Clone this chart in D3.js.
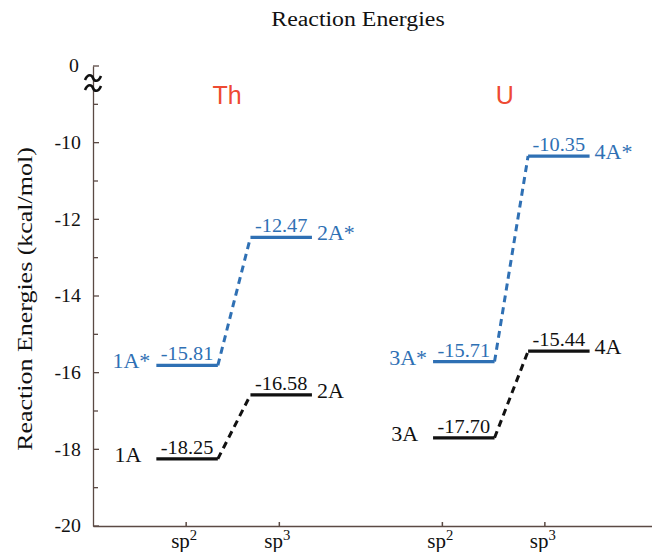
<!DOCTYPE html>
<html lang="en">
<head>
<meta charset="UTF-8" />
<title>Reaction Energies</title>
<script src="https://d3js.org/d3.v7.min.js"></script>
<style>
  body { margin: 0; background: #fff; }
</style>
</head>
<body>
<div id="chart"></div>
<script>
var w = 652;
var h = 552;

// data
var groups = ["Th", "U"];
var groupX = [1.44, 4.42];
var siteLabels = ["2", "3", "2", "3"];        // sp superscripts
var tickPos = [1, 2, 3.75, 4.85];
var levelX = [1.01, 2.02, 3.98, 5.0];
var groundNames = ["1A", "2A", "3A", "4A"];
var groundVals = [-18.25, -16.58, -17.70, -15.44];
var excitedNames = ["1A*", "2A*", "3A*", "4A*"];
var excitedVals = [-15.81, -12.47, -15.71, -10.35];
var yTicks = [-20, -18, -16, -14, -12, -10];
var halfWidth = 0.33;

var blue = "#2f70b4";
var black = "#111";
var red = "#ee4a32";
var axisColor = "#5b4a44";
var serif = "'Liberation Serif', 'DejaVu Serif', serif";
var sans = "'Liberation Sans', Arial, sans-serif";

var svg = d3.select("#chart").append("svg")
    .attr("width", w)
    .attr("height", h);

var x = d3.scaleLinear().domain([0, 6]).range([93, 652]);
var y = d3.scaleLinear().domain([-20, -8]).range([526, 66]);

// text helper: the original's lettering is a little wide, so stretch it horizontally
function addText(parent, px, py, str, size, family, color, anchor, sx, rot) {
    return parent.append("text")
        .attr("transform", "translate(" + px + "," + py + ")" + (rot ? " rotate(" + rot + ")" : "") + " scale(" + sx + ",1)")
        .attr("text-anchor", anchor)
        .attr("fill", color)
        .attr("font-family", family)
        .attr("font-size", size)
        .text(str);
}

// title
addText(svg, 358, 26, "Reaction Energies", 20, serif, black, "middle", 1.19);

// y axis title
addText(svg, 32, 299, "Reaction Energies (kcal/mol)", 22, serif, black, "middle", 1.18, -90);

// y axis: ticks inward, minor every unit
var yAxis = d3.axisLeft(y).tickValues(yTicks).tickSize(0).tickPadding(11)
    .tickFormat(function (d) { return String(d); });
var gy = svg.append("g")
    .attr("transform", "translate(" + x(0) + ",0)")
    .call(yAxis)
    .attr("font-family", serif)
    .attr("font-size", 18);
gy.select(".domain").attr("stroke", axisColor).attr("stroke-width", 1.3);
gy.selectAll(".tick text").attr("fill", black).attr("transform", "scale(1.1,1)");

gy.selectAll(".major").data(yTicks.concat([-8])).enter().append("line")
    .attr("x1", 0).attr("x2", 6)
    .attr("y1", function (d) { return y(d); }).attr("y2", function (d) { return y(d); })
    .attr("stroke", axisColor).attr("stroke-width", 1.3);
gy.selectAll(".minor").data(d3.range(-19, -8, 2)).enter().append("line")
    .attr("x1", 0).attr("x2", 5)
    .attr("y1", function (d) { return y(d); }).attr("y2", function (d) { return y(d); })
    .attr("stroke", axisColor).attr("stroke-width", 1.3);

// top label "0" sits above the axis break
addText(gy, -14, y(-8) + 6, "0", 18, serif, black, "end", 1.1);
[78, 88].forEach(function (cy) {
    gy.append("path")
        .attr("d", "M-8," + (cy + 2) + " C-5," + (cy - 5) + " -1," + (cy - 3) + " 0," + cy +
            " C1," + (cy + 3) + " 5," + (cy + 5) + " 8," + (cy - 2))
        .attr("fill", "none")
        .attr("stroke", black)
        .attr("stroke-width", 2.6);
});

// x axis
var xAxis = d3.axisBottom(x).tickValues(tickPos).tickSize(0).tickFormat("");
var gx = svg.append("g")
    .attr("transform", "translate(0," + y(-20) + ")")
    .call(xAxis)
    .attr("font-family", serif);
gx.select(".domain").attr("stroke", axisColor).attr("stroke-width", 1.3);
gx.selectAll(".xt").data(tickPos).enter().append("line")
    .attr("x1", function (d) { return x(d); }).attr("x2", function (d) { return x(d); })
    .attr("y1", 0).attr("y2", -4)
    .attr("stroke", axisColor).attr("stroke-width", 1.5);
tickPos.forEach(function (d, i) {
    var t = addText(gx, x(d) - 2, 22, "sp", 20, serif, black, "middle", 1.05);
    t.append("tspan").attr("dy", -8).attr("font-size", 14).text(siteLabels[i]);
});

// group labels
groups.forEach(function (d, i) {
    addText(svg, x(groupX[i]), 104, d, 25, sans, red, "middle", 1.0);
});

function drawSeries(vals, names, color) {
    var g = svg.append("g");
    // levels
    g.selectAll(".lvl").data(vals).enter().append("line")
        .attr("x1", function (d, i) { return x(levelX[i] - halfWidth); })
        .attr("x2", function (d, i) { return x(levelX[i] + halfWidth); })
        .attr("y1", function (d) { return y(d); })
        .attr("y2", function (d) { return y(d); })
        .attr("stroke", color).attr("stroke-width", 3.2);
    // dashed connectors sp2 -> sp3
    [0, 2].forEach(function (i) {
        g.append("line")
            .attr("x1", x(levelX[i] + halfWidth)).attr("y1", y(vals[i]))
            .attr("x2", x(levelX[i + 1] - halfWidth)).attr("y2", y(vals[i + 1]))
            .attr("stroke", color).attr("stroke-width", 3)
            .attr("stroke-dasharray", "7,5");
    });
    // value labels and state names
    vals.forEach(function (v, i) {
        addText(g, x(levelX[i]), y(v) - 5, v.toFixed(2), 18, serif, color, "middle", 1.13);
        var star = names[i].indexOf("*") >= 0;
        if (i % 2 === 0) {
            addText(g, x(levelX[i] - halfWidth) - (star ? 6 : 15), y(v) + 3, names[i], 22, serif, color, "end", 1.0);
        } else {
            addText(g, x(levelX[i] + halfWidth) + 5, y(v) + 3, names[i], 22, serif, color, "start", 1.0);
        }
    });
}

drawSeries(groundVals, groundNames, black);
drawSeries(excitedVals, excitedNames, blue);
</script>
</body>
</html>
